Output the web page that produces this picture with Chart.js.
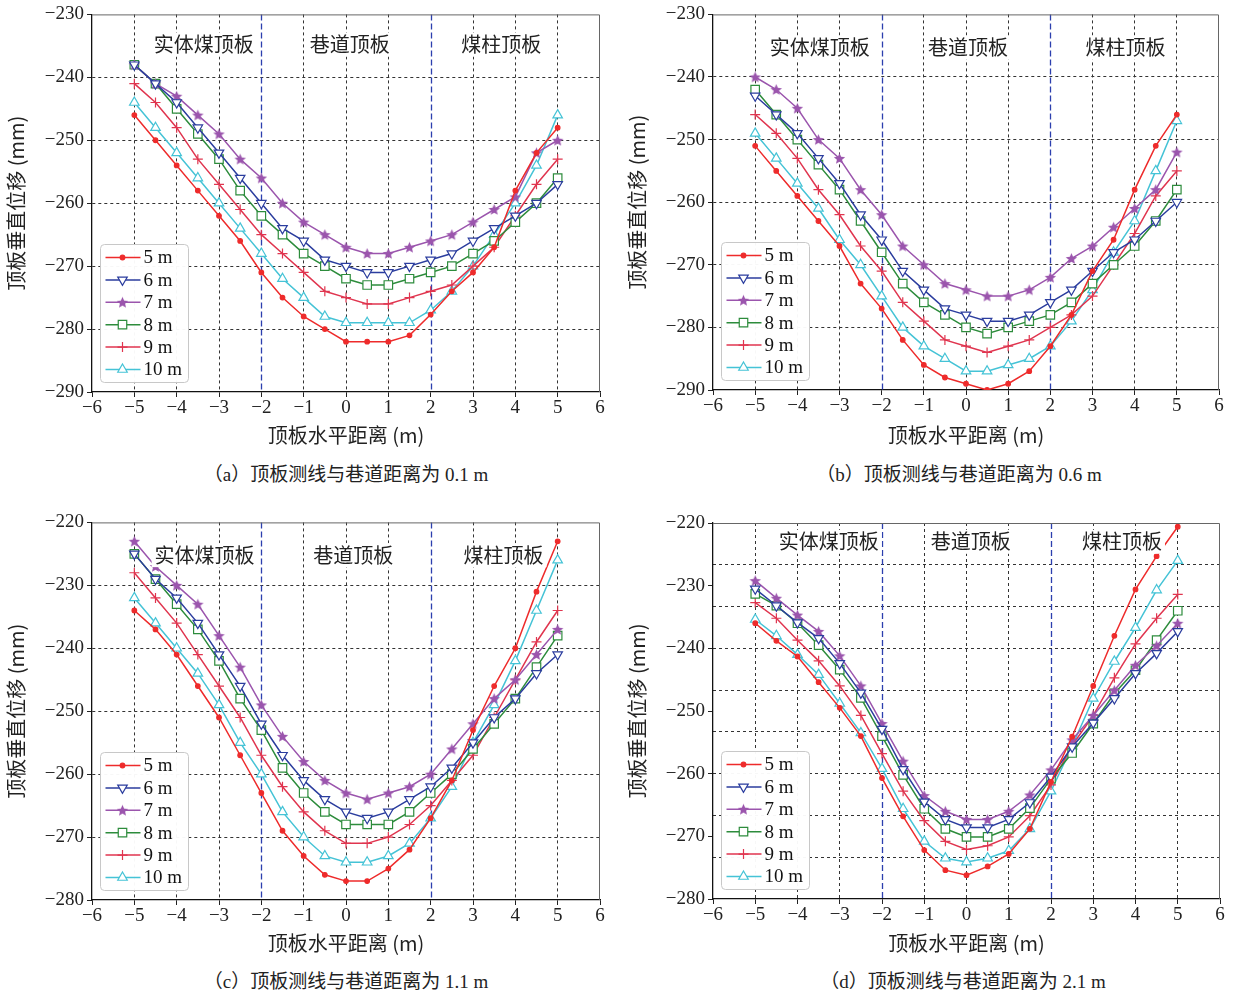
<!DOCTYPE html>
<html lang="zh">
<head>
<meta charset="UTF-8" />
<title>顶板垂直位移</title>
<script src="https://cdn.jsdelivr.net/npm/chart.js"></script>
<style>
  body { margin: 0; background: #fff; }
  #wrap { position: relative; width: 1242px; height: 995px; background: #fff; overflow: hidden; }
  .panel { position: absolute; width: 620px; height: 455px; }
  .caption {
    position: absolute; width: 620px; text-align: center;
    font: 19px 'Liberation Serif', 'Noto Sans CJK SC', serif; color: #222;
  }
</style>
</head>
<body>
<div id="wrap">
  <div class="panel" style="left:0;top:0"><canvas id="ca" width="620" height="455"></canvas></div>
  <div class="panel" style="left:621px;top:0"><canvas id="cb" width="620" height="455"></canvas></div>
  <div class="panel" style="left:0;top:508px"><canvas id="cc" width="620" height="455"></canvas></div>
  <div class="panel" style="left:621px;top:508px"><canvas id="cd" width="620" height="455"></canvas></div>
  <div class="caption" style="left:36px;top:459px">（a）顶板测线与巷道距离为 0.1 m</div>
  <div class="caption" style="left:649px;top:459px">（b）顶板测线与巷道距离为 0.6 m</div>
  <div class="caption" style="left:36px;top:966px">（c）顶板测线与巷道距离为 1.1 m</div>
  <div class="caption" style="left:653px;top:966px">（d）顶板测线与巷道距离为 2.1 m</div>
</div>

<script>
// horizontal distance along the roof (m)
const xs = [-5, -4.5, -4, -3.5, -3, -2.5, -2, -1.5, -1, -0.5, 0, 0.5, 1, 1.5, 2, 2.5, 3, 3.5, 4, 4.5, 5];
const seriesNames = ['5 m', '6 m', '7 m', '8 m', '9 m', '10 m'];
const regionNames = ['实体煤顶板', '巷道顶板', '煤柱顶板'];

// (a) 0.1 m
const a5  = [-246, -250, -254, -258, -262, -266, -271, -275, -278, -280, -282, -282, -282, -281, -277.7, -274, -271, -267, -258, -252, -248];
const a6  = [-238, -241, -244, -248, -252, -256, -260, -264, -266, -269, -270, -271, -271, -270, -269, -268, -266, -264, -262, -260, -257];
const a7  = [-238, -241, -243, -246, -249, -253, -256, -260, -263, -265, -267, -268, -268, -267, -266, -265, -263, -261, -259, -252, -250];
const a8  = [-238, -241, -245, -249, -253, -258, -262, -265, -268, -270, -272, -273, -273, -272, -271, -270, -268, -266, -263, -260, -256];
const a9  = [-241, -244, -248, -253, -257, -261, -265, -268, -271, -274, -275, -276, -276, -275, -274, -273, -270, -267, -262, -257, -253];
const a10 = [-244, -248, -252, -256, -260, -264, -268, -272, -275, -278, -279, -279, -279, -279, -277, -274, -270, -265, -260, -254, -246];

// (b) 0.6 m
const b5  = [-251, -255, -259, -263, -267, -273, -277, -282, -286, -288, -289, -290, -289, -287, -283, -278, -271, -266, -258, -251, -246];
const b6  = [-243, -246, -249, -253, -257, -262, -266, -271, -274, -277, -278, -279, -279, -278, -276, -274, -271, -268, -266, -263, -260];
const b7  = [-240, -242, -245, -250, -253, -258, -262, -267, -270, -273, -274, -275, -275, -274, -272, -269, -267, -264, -261, -258, -252];
const b8  = [-242, -246, -250, -254, -258, -263, -268, -273, -276, -278, -280, -281, -280, -279, -278, -276, -273, -270, -267, -263, -258];
const b9  = [-246, -249, -253, -258, -262, -267, -271, -276, -279, -282, -283, -284, -283, -282, -280, -278, -275, -270, -265, -259, -255];
const b10 = [-249, -253, -257, -261, -266, -270, -275, -280, -283, -285, -287, -287, -286, -285, -283, -279, -274, -268, -263, -255, -247];

// (c) 1.1 m
const c5  = [-234, -237, -241, -246, -251, -257, -263, -269, -273, -276, -277, -277, -275, -272, -267, -261, -253, -246, -240, -231, -223];
const c6  = [-225, -229, -232, -236, -241, -246, -252, -257, -261, -264, -266, -267, -266, -264, -262, -259, -255, -251, -248, -244, -241];
const c7  = [-223, -227, -230, -233, -238, -243, -249, -254, -258, -261, -263, -264, -263, -262, -260, -256, -252, -248, -245, -241, -237];
const c8  = [-225, -229, -233, -237, -242, -248, -253, -259, -263, -266, -268, -268, -268, -266, -263, -260, -256, -252, -248, -243, -238];
const c9  = [-228, -232, -236, -241, -246, -251, -257, -262, -266, -269, -271, -271, -270, -268, -265, -261, -257, -251, -245, -239, -234];
const c10 = [-232, -236, -240, -244, -249, -255, -260, -266, -270, -273, -274, -274, -273, -271, -267, -262, -255, -249, -242, -234, -226];

// (d) 2.1 m
const d5  = [-236, -238.8, -241.3, -245.4, -249.5, -254, -260.7, -266.8, -272.2, -275.4, -276.2, -274.8, -272.8, -268.8, -261.3, -254.1, -246, -238, -230.6, -225.3, -220.6];
const d6  = [-230.5, -233.2, -235.9, -238.4, -242.4, -247.1, -252.9, -259.3, -264.5, -267.3, -268.6, -268.6, -267.3, -264.6, -260.5, -255.7, -251.9, -248, -244, -240.8, -237.3];
const d7  = [-229.2, -232, -234.7, -237.3, -241.2, -246, -252, -258, -263.5, -266, -267.3, -267.3, -266, -263.4, -259.4, -254.6, -250.7, -246.7, -242.7, -239.6, -236];
const d8  = [-231.3, -233.2, -236, -239.5, -243.4, -247.9, -254, -260.2, -265.6, -268.8, -270.1, -270.1, -268.8, -265.5, -260.8, -256.7, -252, -247.2, -243.5, -238.7, -234];
const d9  = [-232.7, -235.2, -238.7, -242, -246, -250.7, -256.8, -262.8, -267.5, -270.8, -272.1, -271.5, -270.1, -266.7, -261.8, -255.5, -250.7, -244.7, -239.3, -235.2, -231.4];
const d10 = [-235.4, -238, -241, -244.2, -248.8, -253.5, -259.2, -265.6, -270.8, -273.5, -274.1, -273.5, -272.3, -268.8, -262.8, -255.6, -248, -242.1, -236.7, -230.7, -226];

// panel (d) has its own grid spacing
const dGridTicks = [-226.667, -233.333, -240, -246.667, -253.333, -260, -266.667, -273.333];

const SERIF = "'Liberation Serif', 'Noto Sans CJK SC', serif";
const CJK = "'Noto Sans CJK SC', 'Liberation Serif', sans-serif";

function starImage(color, size) {
  const c = document.createElement('canvas');
  c.width = size; c.height = size;
  const g = c.getContext('2d');
  const cx = size / 2, cy = size / 2 + 0.5, R = size / 2 - 0.5, r = R * 0.45;
  g.beginPath();
  for (let k = 0; k < 10; k++) {
    const ang = -Math.PI / 2 + k * Math.PI / 5;
    const rr = k % 2 ? r : R;
    g.lineTo(cx + rr * Math.cos(ang), cy + rr * Math.sin(ang));
  }
  g.closePath();
  g.fillStyle = color;
  g.fill();
  return c;
}

const styles = [
  { color: '#ee2b2b', pointStyle: 'circle', radius: 2.3, fill: '#ee2b2b', rot: 0 },
  { color: '#2b3d9e', pointStyle: 'triangle', radius: 5.5, fill: '#fff', rot: 180 },
  { color: '#9b55ad', pointStyle: starImage('#9b55ad', 13), radius: 6, fill: '#9b55ad', rot: 0 },
  { color: '#2d8c3c', pointStyle: 'rect', radius: 6, fill: '#fff', rot: 0 },
  { color: '#e0354f', pointStyle: 'cross', radius: 5, fill: '#e0354f', rot: 0 },
  { color: '#45c3d6', pointStyle: 'triangle', radius: 5.5, fill: '#fff', rot: 0 }
];

function minus(v) { return String(v).replace('-', '\u2212'); }

// blue dashed boundaries at x = -2 and x = 2, frame
const boundaries = {
  id: 'boundaries',
  beforeDatasetsDraw(chart) {
    const { ctx, chartArea: a, scales } = chart;
    ctx.save();
    ctx.strokeStyle = '#2c3fae';
    ctx.lineWidth = 1.3;
    ctx.setLineDash([6, 3]);
    [-2, 2].forEach(v => {
      const px = Math.round(scales.x.getPixelForValue(v)) + 0.5;
      ctx.beginPath(); ctx.moveTo(px, a.top); ctx.lineTo(px, a.bottom); ctx.stroke();
    });
    ctx.restore();
  },
  afterDraw(chart) {
    const { ctx, chartArea: a } = chart;
    ctx.save();
    ctx.strokeStyle = '#666';
    ctx.lineWidth = 1;
    ctx.beginPath();
    ctx.moveTo(a.left, a.top + 0.5); ctx.lineTo(a.right - 0.5, a.top + 0.5); ctx.lineTo(a.right - 0.5, a.bottom);
    ctx.stroke();
    ctx.restore();
  }
};

// region names with a white box and the in-plot legend
const overlay = {
  id: 'overlay',
  afterDatasetsDraw(chart, args, opts) {
    const { ctx, chartArea: a, scales } = chart;
    ctx.save();
    ctx.font = '20px ' + CJK;
    ctx.textAlign = 'center';
    ctx.textBaseline = 'middle';
    const py = scales.y.getPixelForValue(opts.labelY);
    regionNames.forEach((t, i) => {
      const px = scales.x.getPixelForValue(opts.labelX[i]);
      const w = ctx.measureText(t).width;
      ctx.fillStyle = '#fff';
      ctx.fillRect(px - w / 2 - 3, py - 12, w + 6, 24);
      ctx.fillStyle = '#222';
      ctx.fillText(t, px, py);
    });

    // legend
    const w = 88, rowH = 22.4, h = 138;
    const x0 = a.left + 8.5, y0 = a.bottom - 9.5 - h;
    ctx.fillStyle = 'rgba(255,255,255,0.96)';
    ctx.strokeStyle = '#c8c8c8';
    ctx.lineWidth = 1;
    const r = 4;
    ctx.beginPath();
    ctx.moveTo(x0 + r, y0);
    ctx.arcTo(x0 + w, y0, x0 + w, y0 + h, r);
    ctx.arcTo(x0 + w, y0 + h, x0, y0 + h, r);
    ctx.arcTo(x0, y0 + h, x0, y0, r);
    ctx.arcTo(x0, y0, x0 + w, y0, r);
    ctx.closePath();
    ctx.fill();
    ctx.stroke();
    chart.data.datasets.forEach((ds, i) => {
      const y = y0 + 13 + i * rowH;
      ctx.strokeStyle = ds.borderColor;
      ctx.lineWidth = 1.5;
      ctx.setLineDash([]);
      ctx.beginPath(); ctx.moveTo(x0 + 5, y); ctx.lineTo(x0 + 40, y); ctx.stroke();
      ctx.fillStyle = ds.pointBackgroundColor;
      ctx.strokeStyle = ds.pointBorderColor;
      ctx.lineWidth = ds.pointBorderWidth;
      Chart.helpers.drawPoint(ctx, {
        pointStyle: ds.pointStyle, rotation: ds.pointRotation, radius: ds.pointRadius,
        borderWidth: ds.pointBorderWidth
      }, x0 + 22, y);
      ctx.fillStyle = '#111';
      ctx.font = '19px ' + SERIF;
      ctx.textAlign = 'left';
      ctx.fillText(ds.label, x0 + 43, y + 1);
      ctx.textAlign = 'center';
    });
    ctx.restore();
  }
};

function makePanel(id, series, p) {
  const datasets = series.map((vals, i) => ({
    label: seriesNames[i],
    data: xs.map((x, k) => ({ x: x, y: vals[k] })),
    borderColor: styles[i].color,
    borderWidth: 1.5,
    pointStyle: styles[i].pointStyle,
    pointRotation: styles[i].rot,
    pointRadius: styles[i].radius,
    pointBorderWidth: 1.2,
    pointBorderColor: styles[i].color,
    pointBackgroundColor: styles[i].fill,
    tension: 0
  }));

  const scales = {
    x: {
      type: 'linear', min: -6, max: 6,
      afterFit: s => { s.height = p.xh; },
      ticks: { stepSize: 1, font: { family: SERIF, size: 19 }, color: '#222', padding: 0, callback: minus, maxRotation: 0 },
      grid: {
        color: c => (c.tick && (Math.abs(c.tick.value) === 2 || Math.abs(c.tick.value) === 6)) ? 'rgba(0,0,0,0)' : '#333',
        lineWidth: 1, tickLength: 5, tickColor: '#222'
      },
      border: { color: '#111', width: 1.3, dash: [3, 3] },
      title: { display: true, text: '顶板水平距离 (m)', font: { family: CJK, size: 20 }, color: '#222', padding: { top: 0, bottom: 8 } }
    },
    y: {
      type: 'linear', min: p.ymin, max: p.ymax,
      afterFit: s => { s.width = 92; },
      ticks: { stepSize: 10, font: { family: SERIF, size: 19 }, color: '#222', padding: 3, callback: minus },
      grid: {
        color: c => (p.ownGrid || (c.tick && (c.tick.value === p.ymin || c.tick.value === p.ymax))) ? 'rgba(0,0,0,0)' : '#333',
        lineWidth: 1, tickLength: 5, tickColor: '#222'
      },
      border: { color: '#111', width: 1.3, dash: [3, 3] },
      title: { display: true, text: '顶板垂直位移 (mm)', font: { family: CJK, size: 20 }, color: '#222', padding: { top: 4, bottom: 0 } }
    }
  };
  if (p.ownGrid) {
    scales.yg = {
      type: 'linear', position: 'right', min: p.ymin, max: p.ymax,
      afterFit: s => { s.width = 0; },
      afterBuildTicks: s => { s.ticks = p.ownGrid.map(v => ({ value: v })); },
      ticks: { display: false },
      grid: { color: '#333', lineWidth: 1, drawTicks: false },
      border: { display: false, dash: [3, 3] }
    };
  }

  return new Chart(document.getElementById(id), {
    type: 'line',
    data: { datasets },
    options: {
      responsive: false,
      animation: false,
      events: [],
      layout: { padding: { top: p.top, right: p.right, left: 0, bottom: 0 } },
      plugins: {
        legend: { display: false },
        tooltip: { enabled: false },
        overlay: { labelY: p.labelY, labelX: p.labelX }
      },
      scales
    },
    plugins: [boundaries, overlay]
  });
}

makePanel('ca', [a5, a6, a7, a8, a9, a10], { ymin: -290, ymax: -230, top: 14, right: 20, xh: 63, labelY: -234.8, labelX: [-3.36, 0.09, 3.67] });
makePanel('cb', [b5, b6, b7, b8, b9, b10], { ymin: -290, ymax: -230, top: 14, right: 22, xh: 65, labelY: -235.3, labelX: [-3.47, 0.05, 3.78] });
makePanel('cc', [c5, c6, c7, c8, c9, c10], { ymin: -280, ymax: -220, top: 14, right: 20, xh: 63, labelY: -225.2, labelX: [-3.34, 0.17, 3.72] });
makePanel('cd', [d5, d6, d7, d8, d9, d10], { ymin: -280, ymax: -220, top: 15, right: 21, xh: 64, labelY: -223.0, labelX: [-3.26, 0.1, 3.68], ownGrid: dGridTicks });
</script>
</body>
</html>
